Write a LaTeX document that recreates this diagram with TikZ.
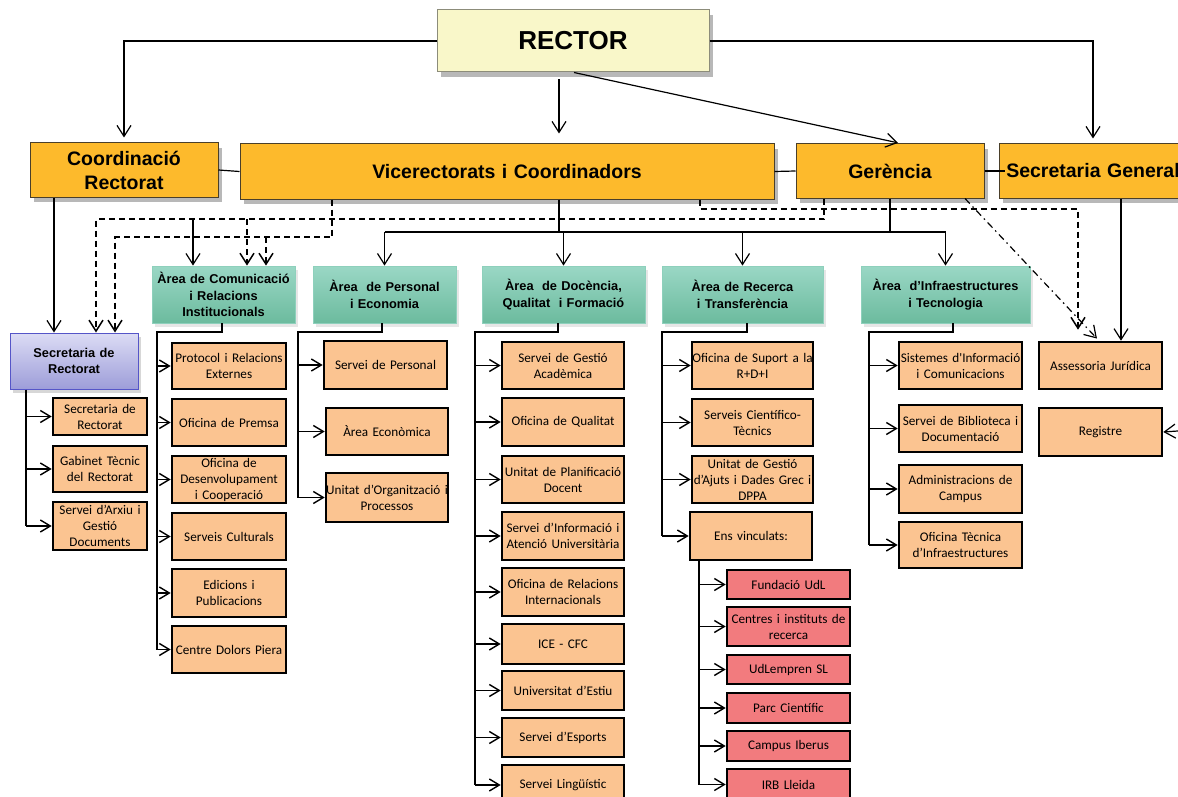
\documentclass[tikz,border=0pt]{standalone}
\usepackage{fontspec}
\setmainfont{Liberation Sans}
\newfontfamily\calfont{Carlito}
\usetikzlibrary{arrows.meta,shadows}
\definecolor{gold}{HTML}{FDBA2C}
\definecolor{topborder}{HTML}{4A3F2A}
\definecolor{rectorfill}{HTML}{F9F7C9}
\definecolor{rectorborder}{HTML}{8C8C7A}
\definecolor{tealtop}{HTML}{9AD7C5}
\definecolor{tealbot}{HTML}{6CBB9E}
\definecolor{tealborder}{HTML}{8ED0BC}
\definecolor{bluetop}{HTML}{DCDCF5}
\definecolor{bluebot}{HTML}{9D9DD9}
\definecolor{blueborder}{HTML}{5555C8}
\definecolor{peach}{HTML}{FBC491}
\definecolor{redbox}{HTML}{F27B7E}
\definecolor{shadowgray}{HTML}{9A9A9A}
\tikzset{
  base/.style={inner sep=0pt, align=center, anchor=center},
  rectorbox/.style={base, fill=rectorfill, draw=rectorborder, line width=1pt,
    font=\fontsize{26}{30}\selectfont\bfseries,
    drop shadow={shadow xshift=4pt, shadow yshift=-5pt, fill=shadowgray, opacity=0.7}},
  topbox/.style={base, fill=gold, draw=topborder, line width=1pt,
    font=\fontsize{19.5}{24}\selectfont\bfseries,
    drop shadow={shadow xshift=4pt, shadow yshift=-5pt, fill=shadowgray, opacity=0.7}},
  area/.style={base, top color=tealtop, bottom color=tealbot, draw=tealborder, line width=0.8pt,
    font=\fontsize{12.8}{16.5}\selectfont\bfseries,
    drop shadow={shadow xshift=3pt, shadow yshift=-4pt, fill=shadowgray, opacity=0.25}},
  bluebox/.style={base, top color=bluetop, bottom color=bluebot, draw=blueborder, line width=1pt,
    font=\fontsize{12.8}{16}\selectfont\bfseries,
    drop shadow={shadow xshift=3pt, shadow yshift=-4pt, fill=shadowgray, opacity=0.4}},
  sub/.style={base, fill=peach, draw=black, line width=2.6pt,
    font=\calfont\fontsize{13.2}{16}\selectfont},
  redsub/.style={sub, fill=redbox},
  conn/.style={line width=1.2pt},
  arr/.style={conn, -{Straight Barb[length=11pt,width=14pt]}},
  tree/.style={line width=2.2pt},
  tarr/.style={line width=1.4pt, -{Straight Barb[length=10pt,width=12pt]}},
  dsh/.style={line width=1.5pt, dash pattern=on 6pt off 4pt},
  darr/.style={dsh, -{Straight Barb[length=11pt,width=14pt]}},
  ddarr/.style={line width=1.2pt, dash pattern=on 7pt off 4pt on 1.5pt off 4pt,
    -{Straight Barb[length=11pt,width=14pt]}}
}
\begin{document}
\begin{tikzpicture}[x=1pt,y=-1pt]
\useasboundingbox (0,0) rectangle (1178,797);
\clip (0,0) rectangle (1178,797);

% ---------- top level ----------
\node[rectorbox, text width=272pt, minimum height=62pt] (rector) at (573,41) {RECTOR};
\node[topbox, text width=188pt, minimum height=54pt] (coord) at (124,170) {Coordinació\\Rectorat};
\node[topbox, text width=534pt, minimum height=55pt] (vice) at (507,171.5) {Vicerectorats i Coordinadors};
\node[topbox, text width=188pt, minimum height=54pt] (ger) at (890,171) {Gerència};
\node[topbox, text width=188pt, minimum height=54pt] (sg) at (1093,171) {Secretaria General};

% ---------- areas ----------
\node[area, text width=143pt, minimum height=57pt] (com) at (223.5,294.5) {Àrea de Comunicació\\i Relacions\\Institucionals};
\node[area, text width=143pt, minimum height=57pt] (pers) at (384.5,294.5) {Àrea\ \ de Personal\\i Economia};
\node[area, text width=163pt, minimum height=57pt] (doc) at (563.5,294.5) {Àrea\ \ de Docència,\\Qualitat\ \ i Formació};
\node[area, text width=161pt, minimum height=57pt] (rec) at (742.5,294.5) {Àrea de Recerca\\i Transferència};
\node[area, text width=169pt, minimum height=57pt] (infra) at (945.5,294.5) {Àrea\ \ d’Infraestructures\\i Tecnologia};
\node[bluebox, text width=128pt, minimum height=56pt] (sec) at (74,361) {Secretaria de\\Rectorat};

% ---------- sub boxes ----------
\node[sub, text width=94pt, minimum height=37pt] (secr) at (100,416.5) {Secretaria de\\Rectorat};
\node[sub, text width=94pt, minimum height=46pt] (gab) at (100,469) {Gabinet Tècnic\\del Rectorat};
\node[sub, text width=94pt, minimum height=48pt] (arxiu) at (100,526) {Servei d’Arxiu i\\Gestió\\Documents};

\node[sub, text width=114pt, minimum height=46pt] (prot) at (229,366) {Protocol i Relacions\\Externes};
\node[sub, text width=114pt, minimum height=47pt] (prem) at (229,422.5) {Oficina de Premsa};
\node[sub, text width=114pt, minimum height=47pt] (desv) at (229,479.5) {Oficina de\\Desenvolupament\\i Cooperació};
\node[sub, text width=114pt, minimum height=47pt] (cult) at (229,536.5) {Serveis Culturals};
\node[sub, text width=114pt, minimum height=48pt] (edic) at (229,593) {Edicions i\\Publicacions};
\node[sub, text width=114pt, minimum height=47pt] (dolors) at (229,649.5) {Centre Dolors Piera};

\node[sub, text width=123pt, minimum height=48pt] (spers) at (385.5,365) {Servei de Personal};
\node[sub, text width=122pt, minimum height=47pt] (aecon) at (387,431.5) {Àrea Econòmica};
\node[sub, text width=122pt, minimum height=49pt] (uorg) at (387,497.5) {Unitat d’Organització i\\Processos};

\node[sub, text width=122pt, minimum height=47pt] (sga) at (563,365.5) {Servei de Gestió\\Acadèmica};
\node[sub, text width=122pt, minimum height=48pt] (oqual) at (563,422) {Oficina de Qualitat};
\node[sub, text width=122pt, minimum height=47pt] (uplan) at (563,479.5) {Unitat de Planificació\\Docent};
\node[sub, text width=122pt, minimum height=48pt] (sinf) at (563,536) {Servei d’Informació i\\Atenció Universitària};
\node[sub, text width=122pt, minimum height=48pt] (ori) at (563,592) {Oficina de Relacions\\Internacionals};
\node[sub, text width=122pt, minimum height=40pt] (ice) at (563,644) {ICE - CFC};
\node[sub, text width=122pt, minimum height=39pt] (uest) at (563,690.5) {Universitat d’Estiu};
\node[sub, text width=122pt, minimum height=39pt] (sesp) at (563,737.5) {Servei d’Esports};
\node[sub, text width=122pt, minimum height=40pt] (ling) at (563,785) {Servei Lingüístic};

\node[sub, text width=121pt, minimum height=47pt] (osup) at (752.5,365.5) {Oficina de Suport a la\\R+D+I};
\node[sub, text width=121pt, minimum height=47pt] (sct) at (752.5,422.5) {Serveis Científico-\\Tècnics};
\node[sub, text width=121pt, minimum height=47pt] (ugest) at (752.5,479.5) {Unitat de Gestió\\d’Ajuts i Dades Grec i\\DPPA};
\node[sub, text width=122pt, minimum height=48pt] (ens) at (751,536) {Ens vinculats:};

\node[redsub, text width=123pt, minimum height=29pt] (fund) at (788.5,584.5) {Fundació UdL};
\node[redsub, text width=123pt, minimum height=39pt] (cent) at (788.5,626.5) {Centres i instituts de\\recerca};
\node[redsub, text width=123pt, minimum height=29pt] (udle) at (788.5,669.5) {UdLempren SL};
\node[redsub, text width=123pt, minimum height=30pt] (parc) at (788.5,708) {Parc Científic};
\node[redsub, text width=123pt, minimum height=30pt] (camp) at (788.5,746) {Campus Iberus};
\node[redsub, text width=123pt, minimum height=31pt] (irb) at (788.5,784.5) {IRB Lleida};

\node[sub, text width=123pt, minimum height=47pt] (sist) at (960.5,365.5) {Sistemes d'Informació\\i Comunicacions};
\node[sub, text width=123pt, minimum height=47pt] (bibl) at (960.5,428.5) {Servei de Biblioteca i\\Documentació};
\node[sub, text width=123pt, minimum height=48pt] (admc) at (960.5,489) {Administracions de\\Campus};
\node[sub, text width=123pt, minimum height=46pt] (otec) at (960.5,545) {Oficina Tècnica\\d’Infraestructures};

\node[sub, text width=123pt, minimum height=47pt] (assess) at (1100.5,365.5) {Assessoria Jurídica};
\node[sub, text width=123pt, minimum height=48pt] (reg) at (1100.5,432) {Registre};

% ---------- helper coordinates ----------
\coordinate (yD2) at (0,209);
\coordinate (yD1) at (0,219);
\coordinate (yS) at (0,232);
\coordinate (yD3) at (0,237);
\coordinate (ySub) at (0,332);
\coordinate (xA) at (54,0);
\coordinate (xB) at (96,0);
\coordinate (xC) at (115,0);
\coordinate (xD) at (193,0);
\coordinate (xE) at (247,0);
\coordinate (xF) at (266,0);
\coordinate (xG) at (332,0);
\coordinate (xH) at (559,0);
\coordinate (xP) at (574,0);
\coordinate (xI) at (700,0);
\coordinate (xJ) at (824,0);
\coordinate (xQ) at (901,0);
\coordinate (xM) at (965,0);
\coordinate (xK) at (1078,0);
\coordinate (xN) at (1099,0);
\coordinate (xL) at (1121,0);
\coordinate (regsrc) at (1192,430);

% ---------- top connectors ----------
\draw[arr, shorten >=5pt] (rector.west) -| (coord.north);
\draw[arr, shorten >=5pt] (rector.east) -| (sg.north);
\draw[arr, shorten <=7pt, shorten >=10pt] (rector.south -| xH) -- (vice.north -| xH);
\draw[arr, shorten >=3pt] (rector.south -| xP) -- (ger.north -| xQ);
\draw[conn] (coord.east) -- (vice.west);
\draw[conn] (vice.east) -- (ger.west);
\draw[conn] (ger.east) -- ([xshift=6pt]sg.west);

% ---------- second level ----------
\draw[arr] (coord.south -| xA) -- (sec.north -| xA);
\draw[tree] (vice.south -| xH) -- (xH |- yS);
\draw[conn] (ger.south) -- (ger.south |- yS);
\draw[conn] (pers.north |- yS) -- (infra.north |- yS);
\foreach \n in {pers,doc,rec,infra} \draw[arr] (\n.north |- yS) -- (\n.north);
\draw[arr] (xD |- yD1) -- (com.north -| xD);

\draw[darr] (ger.south -| xJ) |- (xB |- yD1) -- (sec.north -| xB);
\draw[darr] (xE |- yD1) -- (com.north -| xE);
\draw[darr] (vice.south -| xG) |- (xC |- yD3) -- (sec.north -| xC);
\draw[darr] (xF |- yD3) -- (com.north -| xF);
\draw[darr, shorten >=11pt] (vice.south -| xI) |- (xK |- yD2) -- (assess.north -| xK);
\draw[ddarr, shorten >=3pt] (ger.south -| xM) -- (assess.north -| xN);
\draw[arr] (sg.south -| xL) -- (assess.north -| xL);
\draw[arr] (regsrc) -- (reg.east);

% ---------- sub trees ----------
\coordinate (xs1) at (26,0);
\draw[tree] (sec.south -| xs1) -- (xs1 |- arxiu.west);
\foreach \n in {secr,gab,arxiu} \draw[tarr] (xs1 |- \n.west) -- (\n.west);

\coordinate (xc1) at (222,0);
\coordinate (xc2) at (157,0);
\draw[tree] (com.south -| xc1) -- (xc1 |- ySub) -- (xc2 |- ySub) -- (xc2 |- dolors.west);
\foreach \n in {prot,prem,desv,cult,edic,dolors} \draw[tarr] (xc2 |- \n.west) -- (\n.west);

\coordinate (xp1) at (382,0);
\coordinate (xp2) at (298,0);
\draw[tree] (pers.south -| xp1) -- (xp1 |- ySub) -- (xp2 |- ySub) -- (xp2 |- uorg.west);
\foreach \n in {spers,aecon,uorg} \draw[tarr] (xp2 |- \n.west) -- (\n.west);

\coordinate (xd1) at (558,0);
\coordinate (xd2) at (475,0);
\draw[tree] (doc.south -| xd1) -- (xd1 |- ySub) -- (xd2 |- ySub) -- (xd2 |- ling.west);
\foreach \n in {sga,oqual,uplan,sinf,ori,ice,uest,sesp,ling} \draw[tarr] (xd2 |- \n.west) -- (\n.west);

\coordinate (xr1) at (747,0);
\coordinate (xr2) at (662,0);
\draw[tree] (rec.south -| xr1) -- (xr1 |- ySub) -- (xr2 |- ySub) -- (xr2 |- ens.west);
\foreach \n in {osup,sct,ugest,ens} \draw[tarr] (xr2 |- \n.west) -- (\n.west);

\coordinate (xe) at (699,0);
\draw[tree] (ens.south -| xe) -- (xe |- irb.west);
\foreach \n in {fund,cent,udle,parc,camp,irb} \draw[tarr] (xe |- \n.west) -- (\n.west);

\coordinate (xi1) at (953,0);
\coordinate (xi2) at (869,0);
\draw[tree] (infra.south -| xi1) -- (xi1 |- ySub) -- (xi2 |- ySub) -- (xi2 |- otec.west);
\foreach \n in {sist,bibl,admc,otec} \draw[tarr] (xi2 |- \n.west) -- (\n.west);
\end{tikzpicture}
\end{document}
